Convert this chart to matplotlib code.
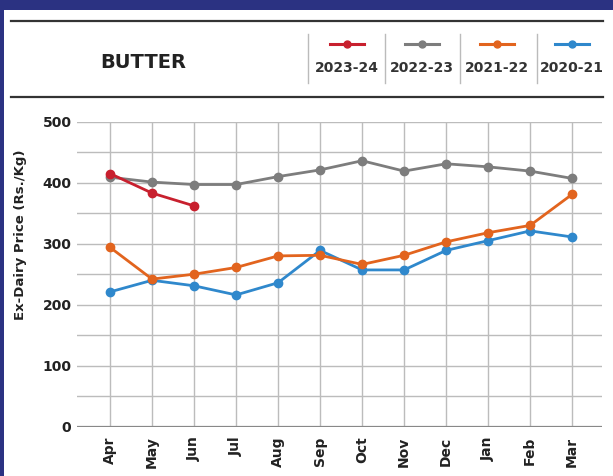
import matplotlib.pyplot as plt
from matplotlib.lines import Line2D
from matplotlib.patches import Rectangle

months = ['Apr', 'May', 'Jun', 'Jul', 'Aug', 'Sep', 'Oct', 'Nov', 'Dec', 'Jan', 'Feb', 'Mar']
seasons = ['2023-24', '2022-23', '2021-22', '2020-21']
colors = ['#c8202e', '#7d7d7d', '#e2641e', '#2f88cc']

p_2023_24 = [415, 383, 362]
p_2022_23 = [409, 401, 397, 397, 410, 421, 436, 419, 431, 426, 419, 407]
p_2021_22 = [294, 242, 250, 261, 280, 281, 266, 281, 303, 318, 330, 381]
p_2020_21 = [221, 240, 231, 216, 236, 289, 257, 257, 289, 305, 321, 311]
series = [p_2023_24, p_2022_23, p_2021_22, p_2020_21]

W, H = 613, 476
fig = plt.figure(figsize=(W / 100, H / 100), dpi=100)
fig.patch.set_facecolor('#2b3282')
fig.patches.append(Rectangle((4 / W, 0), 1, 1 - 10 / H, transform=fig.transFigure,
                             facecolor='white', edgecolor='none', zorder=-10))

# header rules and title
for yy in (21, 97):
    fig.add_artist(Line2D([11 / W, 603 / W], [1 - yy / H] * 2, color='#333333', lw=1.6))
fig.text(143 / W, 1 - 62 / H, 'BUTTER', ha='center', va='center', fontsize=14,
         fontweight='heavy', color='#222222')

# legend in header
seps = [308, 385, 460, 537]
centers = [347, 422, 497, 572]
for sx in seps:
    fig.add_artist(Line2D([sx / W] * 2, [1 - 34 / H, 1 - 83 / H], color='#bbbbbb', lw=1))
for cx, lab, c in zip(centers, seasons, colors):
    fig.add_artist(Line2D([(cx - 17) / W, (cx + 17) / W], [1 - 44 / H] * 2, color=c, lw=2.2))
    fig.add_artist(Line2D([cx / W], [1 - 44 / H], color=c, marker='o', markersize=5, lw=0))
    fig.text(cx / W, 1 - 68 / H, lab, ha='center', va='center', fontsize=10,
             fontweight='bold', color='#333333')

ax = fig.add_axes([77 / W, 1 - 426.7 / H, (602 - 77) / W, (426.7 - 121.7) / H])
x = list(range(len(months)))
for vals, c in zip(series[::-1], colors[::-1]):
    ax.plot(x[:len(vals)], vals, color=c, lw=2, marker='o', markersize=6, zorder=3)

ax.set_xlim(-0.786, 11.71)
ax.set_ylim(0, 500)
ax.set_yticks(range(0, 501, 100))
ax.set_yticks(range(50, 500, 100), minor=True)
ax.set_xticks(x)
ax.set_xticklabels(months, rotation=90, fontsize=10, fontweight='bold', color='#222222')
ax.set_yticklabels([str(v) for v in range(0, 501, 100)], fontsize=10, fontweight='bold',
                   color='#222222')
ax.tick_params(axis='y', length=0, which='both', pad=4)
ax.tick_params(axis='x', length=0, which='both', pad=7)
ax.grid(True, which='both', color='#bcbcbc', lw=1)
for s in ax.spines.values():
    s.set_visible(False)
ax.axhline(0, color='#888888', lw=1.6, zorder=2)
ax.set_ylabel('Ex-Dairy Price (Rs./Kg)', fontsize=9.5, fontweight='bold',
              color='#222222')
ax.yaxis.set_label_coords(-0.095, 0.628)
ax.set_facecolor('none')

fig.savefig('out.png', dpi=100)
